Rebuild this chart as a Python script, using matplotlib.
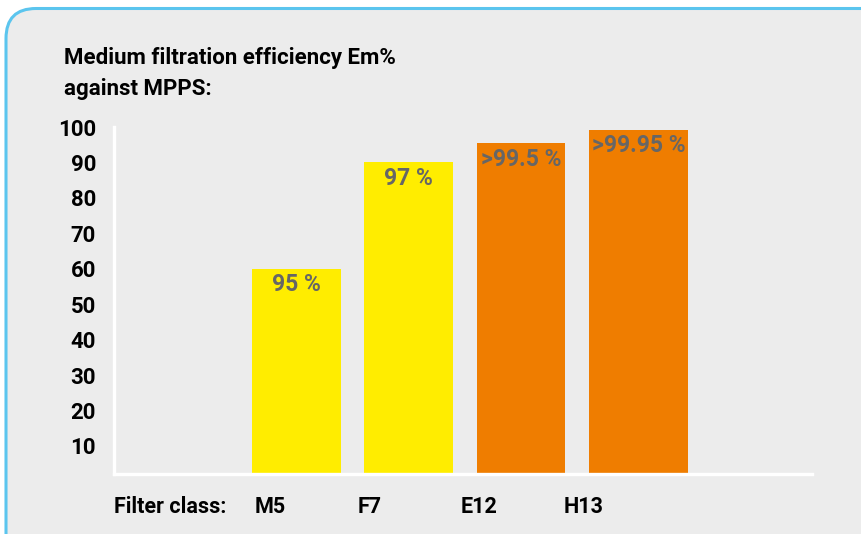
import matplotlib
matplotlib.use("Agg")
import matplotlib.pyplot as plt
import matplotlib.patches as mpatches
import matplotlib.transforms as mtransforms
import numpy as np

classes = ["M5", "F7", "E12", "H13"]
heights = [60, 90, 95.5, 99.2]
labels = ["95 %", "97 %", ">99.5 %", ">99.95 %"]
colors = ["#FFED00", "#FFED00", "#EF7D00", "#EF7D00"]
yticks = [10, 20, 30, 40, 50, 60, 70, 80, 90, 100]

plt.rcParams["font.family"] = ["Roboto", "DejaVu Sans"]
plt.rcParams["font.weight"] = "bold"

fig = plt.figure(figsize=(8.62, 5.34), dpi=100, facecolor="white")

# rounded grey panel with blue border (pixel coords)
panel = mpatches.FancyBboxPatch((6, -60), 920, 525.5 + 60,
                                boxstyle="round,pad=0,rounding_size=30",
                                transform=mtransforms.IdentityTransform(),
                                facecolor="#ECECEC", edgecolor="#5BC5EE",
                                lw=2.2, zorder=-1)
fig.patches.append(panel)

ax = fig.add_axes([114 / 862, 60 / 534, 698 / 862, 347 / 534])
ax.set_facecolor("none")

x = np.arange(len(classes))
widths = [0.79, 0.79, 0.79, 0.88]
left = x - 0.395
ax.bar(left, heights, width=widths, align="edge", color=colors, zorder=2)

for l, w, h, t in zip(left, widths, heights, labels):
    ax.text(l + w / 2, h - 1.3, t, ha="center", va="top",
            color="#666666", fontsize=16.5, fontweight="bold", zorder=3)

ax.set_xlim(-1.625, 4.59)
ax.set_ylim(2.1, 100)

for s in ["top", "right"]:
    ax.spines[s].set_visible(False)
for s in ["left", "bottom"]:
    ax.spines[s].set_color("white")
    ax.spines[s].set_linewidth(2.4)
    ax.spines[s].set_zorder(4)

ax.set_yticks(yticks)
ax.tick_params(axis="y", length=0, pad=13, labelsize=16, labelcolor="black")
ax.set_xticks([])

# category labels below the axis
label_x = x * 0.915 - 0.37
for lx, c in zip(label_x, classes):
    ax.text(lx, -0.095, c, transform=ax.get_xaxis_transform(), ha="left",
            va="center", fontsize=15.5, fontweight="bold", color="black")
ax.text(0, -0.095, "Filter class:", transform=ax.transAxes, ha="left",
        va="center", fontsize=15.5, fontweight="bold", color="black")

fig.text(64 / 862, 1 - 47 / 534, "Medium filtration efficiency Em%\nagainst MPPS:",
         ha="left", va="top", fontsize=16, fontweight="bold", color="black",
         linespacing=1.5)

fig.savefig("out.png", dpi=100, facecolor="white")
